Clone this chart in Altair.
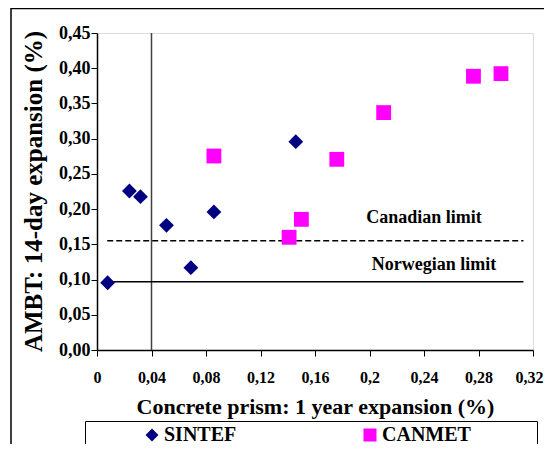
import altair as alt
import pandas as pd

# ---- data ----
sintef_x = [0.0078, 0.0238, 0.0319, 0.0510, 0.0689, 0.0858, 0.1459]
sintef_y = [0.0955, 0.2257, 0.2177, 0.1770, 0.1169, 0.1960, 0.2957]
canmet_x = [0.0858, 0.1410, 0.1500, 0.1760, 0.2104, 0.2763, 0.2965]
canmet_y = [0.2754, 0.1600, 0.1855, 0.2707, 0.3370, 0.3886, 0.3923]

series_names = ["SINTEF", "CANMET"]
series_shapes = ["diamond", "square"]
series_colors = ["#000080", "#FF00FF"]

limit_names = ["Canadian limit", "Norwegian limit"]
limit_values = [0.155, 0.097]
limit_x_start = [0.0075, 0.0075]
limit_x_end = [0.313, 0.313]
limit_label_x = [0.240, 0.2474]
limit_label_y = [0.1874, 0.1207]

vline_x = [0.04]

x_ticks = [0, 0.04, 0.08, 0.12, 0.16, 0.20, 0.24, 0.28, 0.32]
y_ticks = [0, 0.05, 0.10, 0.15, 0.20, 0.25, 0.30, 0.35, 0.40, 0.45]

FONT = "Liberation Serif"

pts = pd.DataFrame({
    "x": sintef_x + canmet_x,
    "y": sintef_y + canmet_y,
    "series": [series_names[0]] * len(sintef_x) + [series_names[1]] * len(canmet_x),
})
limits = pd.DataFrame({
    "name": limit_names,
    "value": limit_values,
    "x0": limit_x_start,
    "x1": limit_x_end,
    "lx": limit_label_x,
    "ly": limit_label_y,
})
vl = pd.DataFrame({"x": vline_x})

xscale = alt.Scale(domain=[0, 0.32], nice=False, zero=False)
yscale = alt.Scale(domain=[0, 0.45], nice=False, zero=False)

xaxis = alt.Axis(
    values=x_ticks,
    labelExpr="replace(format(datum.value, '.2~f'), '.', ',')",
    title="Concrete prism:  1 year expansion (%)",
    grid=False, domainColor="black", tickColor="black", domainWidth=1.5,
    tickSize=6, labelPadding=13, labelFontSize=16, labelFont=FONT,
    labelFontWeight="bold", labelColor="black", labelOverlap=False, labelFlush=False,
    labelOffset={"condition": {"test": "datum.value >= 0.31", "value": -4}, "value": 0},
    titleFont=FONT, titleFontSize=22, titleFontWeight="bold", titleColor="black",
    titleY=63, titleBaseline="alphabetic",
)
yaxis = alt.Axis(
    values=y_ticks,
    labelExpr="replace(format(datum.value, '.2f'), '.', ',')",
    title="AMBT: 14-day expansion (%)",
    grid=False, domainColor="black", tickColor="black", domainWidth=1.5,
    tickSize=6, labelPadding=1, labelFontSize=18, labelFont=FONT,
    labelFontWeight="bold", labelColor="black", labelOverlap=False, labelFlush=False,
    titleFont=FONT, titleFontSize=25, titleFontWeight="bold", titleColor="black",
    titleX=-56, titleY=158, titleBaseline="alphabetic", titleAngle=270,
)

frame = alt.Chart(pd.DataFrame({"a": [0]})).mark_rect(
    fill=None, stroke="black", strokeWidth=1.5, clip=False
).encode(
    x=alt.value(-86), x2=alt.value(800), y=alt.value(-24.5), y2=alt.value(800)
)

vline = alt.Chart(vl).mark_rule(color="#404040", strokeWidth=1.5).encode(
    x=alt.X("x:Q", scale=xscale, axis=xaxis)
)

rules = alt.Chart(limits).mark_rule(color="black", strokeWidth=1.5).encode(
    x=alt.X("x0:Q", scale=xscale, axis=xaxis),
    x2="x1:Q",
    y=alt.Y("value:Q", scale=yscale, axis=yaxis),
    strokeDash=alt.StrokeDash("name:N", scale=alt.Scale(domain=limit_names, range=[[6, 3], [1, 0]]), legend=None),
)

texts = alt.Chart(limits).mark_text(
    font=FONT, fontSize=18, fontWeight="bold", color="black", baseline="middle", align="center"
).encode(
    x=alt.X("lx:Q", scale=xscale, axis=xaxis),
    y=alt.Y("ly:Q", scale=yscale, axis=yaxis),
    text="name:N",
)

points = alt.Chart(pts).mark_point(filled=True, size=220, opacity=1).encode(
    x=alt.X("x:Q", scale=xscale, axis=xaxis),
    y=alt.Y("y:Q", scale=yscale, axis=yaxis),
    shape=alt.Shape("series:N", scale=alt.Scale(domain=series_names, range=series_shapes), title=" "),
    color=alt.Color("series:N", scale=alt.Scale(domain=series_names, range=series_colors), title=" ",
                    legend=alt.Legend(
                        orient="none", legendX=-12, legendY=388, direction="horizontal", columns=2,
                        strokeColor="black", padding=4, symbolOffset=53, labelOffset=2,
                        columnPadding=70, labelFontSize=20, labelFont=FONT, labelFontWeight="bold",
                        labelColor="black", symbolSize=170, symbolStrokeWidth=0,
                        titleOrient="right", titleFontSize=1, titlePadding=62,
                    )),
)

chart = alt.layer(frame, vline, rules, texts, points).properties(
    width=436, height=317,
    autosize=alt.AutoSizeParams(type="none"),
    padding={"left": 89, "top": 25, "right": 11, "bottom": 94},
).configure_view(
    stroke="#808080", strokeWidth=2
).configure(background="white")

chart.save("out.html", embed_options={"renderer": "svg", "actions": False})
